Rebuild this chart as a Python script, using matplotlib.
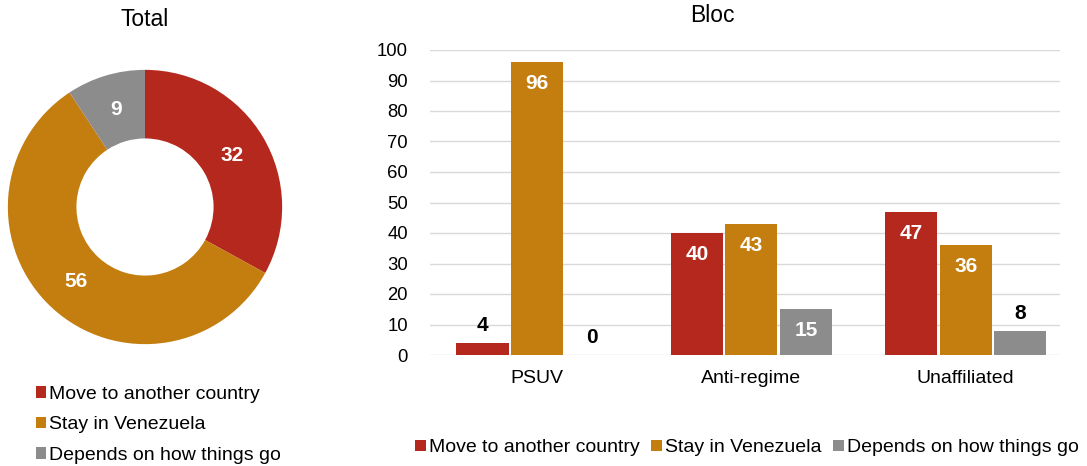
import matplotlib.pyplot as plt
import numpy as np
from matplotlib.patches import Patch

plt.rcParams['font.family'] = ['Liberation Sans', 'DejaVu Sans']

series = ['Move to another country', 'Stay in Venezuela', 'Depends on how things go']
colors = ['#B5281E', '#C47E10', '#8C8C8C']

total_values = [32, 56, 9]

blocs = ['PSUV', 'Anti-regime', 'Unaffiliated']
move_vals = [4, 40, 47]
stay_vals = [96, 43, 36]
depends_vals = [0, 15, 8]

W, H = 1087, 466


def main():
    fig = plt.figure(figsize=(W / 100, H / 100), dpi=100)

    # donut
    ax1 = fig.add_axes([1 / W, 115 / H, 288 / W, 288 / H])
    ax1.pie(total_values, colors=colors, startangle=90, counterclock=False,
            radius=1, wedgeprops=dict(width=0.5, edgecolor='white', linewidth=0))
    tot = sum(total_values)
    start = 90.0
    for v in total_values:
        ang = np.deg2rad(start - v / tot * 360 / 2)
        ax1.text(0.74 * np.cos(ang), 0.74 * np.sin(ang), str(v), ha='center', va='center',
                 color='white', fontsize=15, fontweight='bold')
        start -= v / tot * 360
    ax1.set_xlim(-1.05, 1.05)
    ax1.set_ylim(-1.05, 1.05)
    fig.text(145 / W, 1 - 20 / H, 'Total', ha='center', va='center', fontsize=16.5)

    handles = [Patch(facecolor=c, edgecolor='none') for c in colors]
    fig.legend(handles, series, loc='upper left', bbox_to_anchor=(26 / W, 1 - 376 / H),
               frameon=False, fontsize=14, handlelength=0.55, handleheight=0.55,
               handletextpad=0.15, labelspacing=0.7, borderpad=0)

    # bars
    ax2 = fig.add_axes([430 / W, 1 - 355 / H, 630 / W, 305 / H])
    x = np.arange(len(blocs))
    bw = 0.243
    step = 0.255
    for i, vals in enumerate([move_vals, stay_vals, depends_vals]):
        xs = x + (i - 1) * step
        ax2.bar(xs, vals, width=bw, color=colors[i], zorder=3)
        for xi, v in zip(xs, vals):
            if v >= 12:
                ax2.text(xi, v - 4, str(v), ha='center', va='top', color='white',
                         fontsize=15, fontweight='bold', zorder=4)
            else:
                ax2.text(xi, v + 2.5, str(v), ha='center', va='bottom', color='black',
                         fontsize=15, fontweight='bold', zorder=4)
    ax2.set_xlim(-0.5, 2.44)
    ax2.set_ylim(0, 100)
    ax2.set_yticks(range(0, 101, 10))
    ax2.set_xticks(x)
    ax2.set_xticklabels(blocs, fontsize=14)
    ax2.tick_params(axis='y', labelsize=13.3, length=0, pad=16)
    ax2.tick_params(axis='x', length=0, pad=11)
    ax2.grid(axis='y', color='#D9D9D9', linewidth=1, zorder=0)
    for s in ax2.spines.values():
        s.set_visible(False)
    fig.text(712 / W, 1 - 15 / H, 'Bloc', ha='center', va='center', fontsize=16.5)

    fig.legend(handles, series, loc='center', bbox_to_anchor=(747 / W, 1 - 448 / H), ncol=3,
               frameon=False, fontsize=14, handlelength=0.55, handleheight=0.55,
               handletextpad=0.15, columnspacing=0.6, borderpad=0)

    fig.savefig('out.png', dpi=100)


if __name__ == '__main__':
    main()
